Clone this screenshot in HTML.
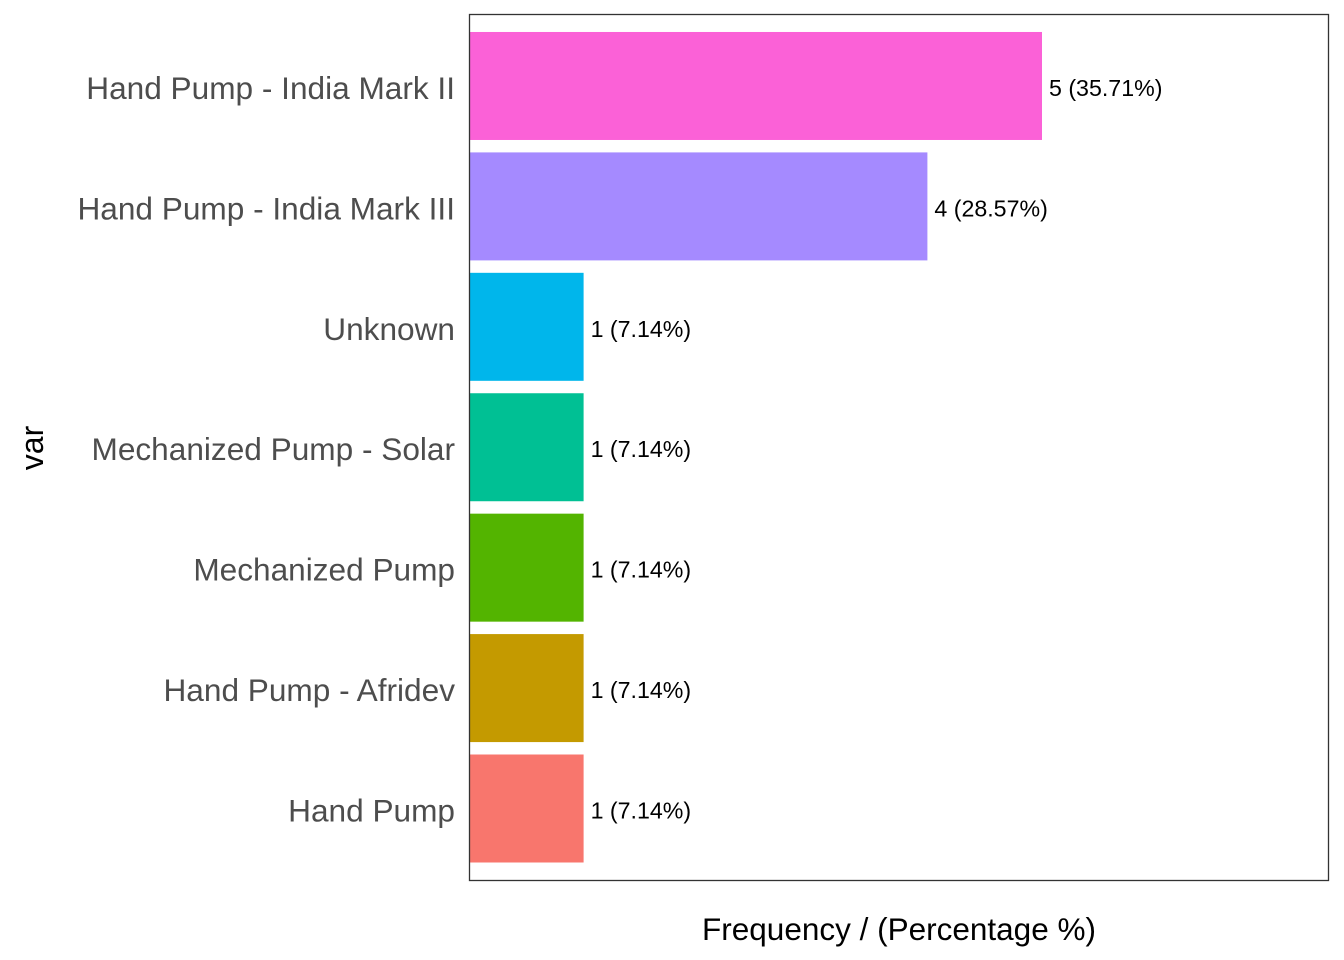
<!DOCTYPE html>
<html><head><meta charset="utf-8"><style>
body{margin:0;background:#fff}
svg{display:block}
</style></head><body>
<svg id="chart" width="1344" height="960" xmlns="http://www.w3.org/2000/svg" font-family="Liberation Sans, sans-serif">
<rect x="0" y="0" width="1344" height="960" fill="#fff"/>
<g id="marks"></g>
<rect x="469.5" y="14.5" width="859" height="866" fill="none" stroke="#333" stroke-width="1.3"/>
<text transform="translate(43,448) rotate(-90)" text-anchor="middle" font-size="32" fill="#000">var</text>
<text x="899" y="940" text-anchor="middle" font-size="31.5" fill="#000">Frequency / (Percentage %)</text>
</svg>
<script>
const categories = ["Hand Pump","Hand Pump - Afridev","Mechanized Pump","Mechanized Pump - Solar","Unknown","Hand Pump - India Mark III","Hand Pump - India Mark II"];
const counts = [1,1,1,1,1,4,5];
const labels = ["1 (7.14%)","1 (7.14%)","1 (7.14%)","1 (7.14%)","1 (7.14%)","4 (28.57%)","5 (35.71%)"];
const colors = ["#F8766D","#C49A00","#53B400","#00C094","#00B6EB","#A58AFF","#FB61D7"];

const NS = "http://www.w3.org/2000/svg";
const g = document.getElementById("marks");
const x0 = 469, unit = (1042 - 469) / 5;
function xScale(v){ return x0 + v * unit; }
const step = 120.42, bottomCenter = 808.5, barH = 108;
function yCenter(i){ return bottomCenter - i * step; }

categories.forEach((c, i) => {
  const cy = yCenter(i);
  const r = document.createElementNS(NS, "rect");
  r.setAttribute("x", xScale(0));
  r.setAttribute("y", cy - barH / 2);
  r.setAttribute("width", xScale(counts[i]) - xScale(0));
  r.setAttribute("height", barH);
  r.setAttribute("fill", colors[i]);
  
  
  g.appendChild(r);

  const t = document.createElementNS(NS, "text");
  t.setAttribute("x", xScale(counts[i]) + 7);
  t.setAttribute("y", cy + 10);
  t.setAttribute("font-size", "23.2");
  t.setAttribute("fill", "#000");
  t.textContent = labels[i];
  
  
  g.appendChild(t);

  const l = document.createElementNS(NS, "text");
  l.setAttribute("x", 455);
  l.setAttribute("y", cy + 13);
  l.setAttribute("text-anchor", "end");
  l.setAttribute("font-size", "31.6");
  l.setAttribute("fill", "#4D4D4D");
  l.textContent = c;
  
  
  g.appendChild(l);
});
</script>
</body></html>
